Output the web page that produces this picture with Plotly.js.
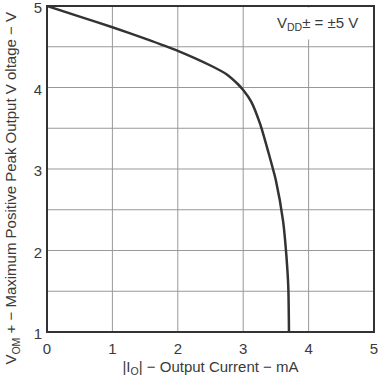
<!DOCTYPE html>
<html><head><meta charset="utf-8">
<script src="https://cdn.plot.ly/plotly-3.0.1.min.js"></script>
<style>body{margin:0;background:#fff}#c{width:378px;height:377px}</style>
</head><body><div id="c"></div>
<script>
const currentMA = [0, 0.5, 1, 1.5, 2, 2.5, 2.75, 2.92, 3.0, 3.12, 3.26, 3.38, 3.5, 3.61, 3.66, 3.69, 3.70];
const voutV     = [5, 4.87, 4.74, 4.60, 4.45, 4.27, 4.16, 4.04, 3.97, 3.83, 3.55, 3.22, 2.86, 2.36, 1.94, 1.54, 1.0];
const xTicks = [0, 1, 2, 3, 4, 5];
const yTicks = [1, 2, 3, 4, 5];
const yGrid = [1, 1.5, 2, 2.5, 3, 3.5, 4, 4.5, 5];

const font = {family: 'Liberation Sans, Arial, sans-serif', size: 15, color: '#3a3a3a'};
const shapes = [];
yGrid.forEach(v => shapes.push({type:'line', xref:'paper', x0:0, x1:1, yref:'y', y0:v, y1:v, line:{color:'#999', width:1}, layer:'below'}));
xTicks.forEach(v => shapes.push({type:'line', yref:'paper', y0:0, y1:1, xref:'x', x0:v, x1:v, line:{color:'#999', width:1}, layer:'below'}));
shapes.push({type:'rect', xref:'paper', yref:'paper', x0:0, x1:1, y0:0, y1:1, line:{color:'#333', width:2}});

Plotly.newPlot('c', [{
  x: currentMA, y: voutV, mode: 'lines', line: {color: '#333', width: 2.5, shape: 'spline', smoothing: 0.6},
  hoverinfo: 'skip'
}], {
  width: 378, height: 377,
  margin: {l: 47, r: 4, t: 6, b: 45},
  paper_bgcolor: '#fff', plot_bgcolor: '#fff',
  showlegend: false,
  font: font,
  xaxis: {range: [0, 5], tickvals: xTicks, showgrid: false, zeroline: false, showline: false,
    ticks: '', tickfont: font, ticklabelstandoff: 6, ticklabeloverflow: 'allow',
    title: {text: '|I<sub>O</sub>| − Output Current − mA', font: font, standoff: 6}},
  yaxis: {range: [1, 5], tickvals: yTicks, showgrid: false, zeroline: false, showline: false,
    ticks: '', tickfont: font, ticklabelstandoff: 4, ticklabelshift: 2, ticklabeloverflow: 'allow'},
  shapes: shapes,
  annotations: [
    {xref: 'paper', yref: 'paper', x: 0.9725, y: 0.997, xanchor: 'right', yanchor: 'top',
     text: 'V<sub>DD</sub>± = ±5 V', showarrow: false, font: font, bgcolor: '#fff', borderpad: 6},
    {xref: 'paper', yref: 'paper', x: -0.107, y: 0.44, xanchor: 'center', yanchor: 'middle', textangle: -90,
     text: 'V<sub>OM</sub> + − Maximum Positive Peak Output V oltage − V', showarrow: false, font: font}
  ]
}, {displayModeBar: false, staticPlot: true});
</script></body></html>
